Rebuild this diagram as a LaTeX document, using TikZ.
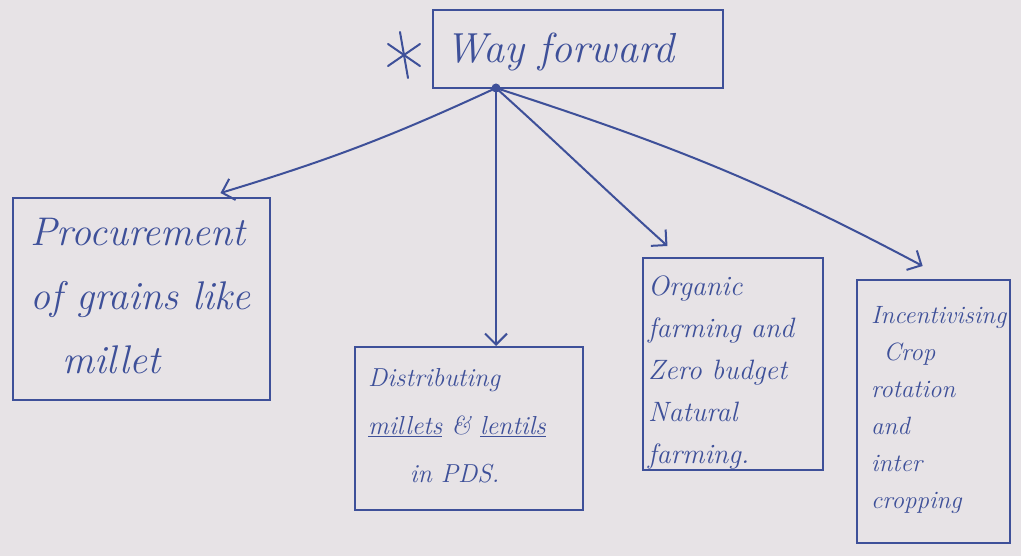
\documentclass[tikz,border=0pt]{standalone}
\usepackage{fontspec}
\usetikzlibrary{arrows.meta,calc}
\definecolor{ink}{HTML}{3E5099}
\definecolor{paper}{HTML}{E7E3E6}
\tikzset{
  box/.style={draw=ink, line width=2pt, inner sep=0pt, rectangle},
  txt/.style={text=ink, inner sep=0pt, align=left, anchor=north west},
  link/.style={draw=ink, line width=2pt, -{Straight Barb[length=11pt,width=22pt,line width=2pt]}},
  hand/.style={draw=ink, line width=2pt, line cap=round}
}
\begin{document}
\begin{tikzpicture}[x=1pt,y=-1pt]
% paper
\fill[paper] (0,0) rectangle (1021,556);
\useasboundingbox (0,0) rectangle (1021,556);

% title box
\node[box, minimum width=290pt, minimum height=78pt] (top) at (578,49) {};
\node[text=ink, inner sep=0pt, font=\fontsize{42}{50}\selectfont\itshape] (toptxt) at (560,52) {Way forward};
% asterisk in front of the title
\draw[hand] (400,32) -- (408,78);
\draw[hand] (388,44) -- (420,66);
\draw[hand] (388,66) -- (420,44);

% branching point
\coordinate (hub) at (496,88);
\fill[ink] (hub) circle (4.5pt);

% branch boxes
\node[box, minimum width=257pt, minimum height=202pt] (b1) at (141.5,299) {};
\node[box, minimum width=228pt, minimum height=163pt] (b2) at (469,428.5) {};
\node[box, minimum width=180pt, minimum height=212pt] (b3) at (733,364) {};
\node[box, minimum width=153pt, minimum height=263pt] (b4) at (933.5,411.5) {};

% texts inside the branch boxes
\node[txt, font=\fontsize{40}{64}\selectfont\itshape] (t1) at (30,218) {Procurement\\of grains like\\\hspace*{0.8em}millet};
\node[txt, font=\fontsize{26}{48}\selectfont\itshape] (t2) at (368,368) {Distributing\\\underline{millets} \& \underline{lentils}\\\hspace*{1.6em}in PDS.};
\node[txt, font=\fontsize{28}{42}\selectfont\itshape] (t3) at (648,276) {Organic\\farming and\\Zero budget\\Natural\\farming.};
\node[txt, font=\fontsize{25}{37}\selectfont\itshape] (t4) at (871,306) {Incentivising\\\hspace*{0.5em}Crop\\rotation\\and\\inter\\cropping};

% connectors
\draw[link] (hub) to[bend left=4] ($(b1.north west)!0.805!(b1.north east)+(0,-4)$);
\draw[link] (hub) -- (hub |- b2.north);
\draw[link] (hub) to[out=-42, in=138] ($(b3.north west)!0.14!(b3.north east)+(0,-11)$);
\draw[link] (hub) to[out=-18, in=152] ($(b4.north west)!0.43!(b4.north east)+(0,-13)$);
\end{tikzpicture}
\end{document}
